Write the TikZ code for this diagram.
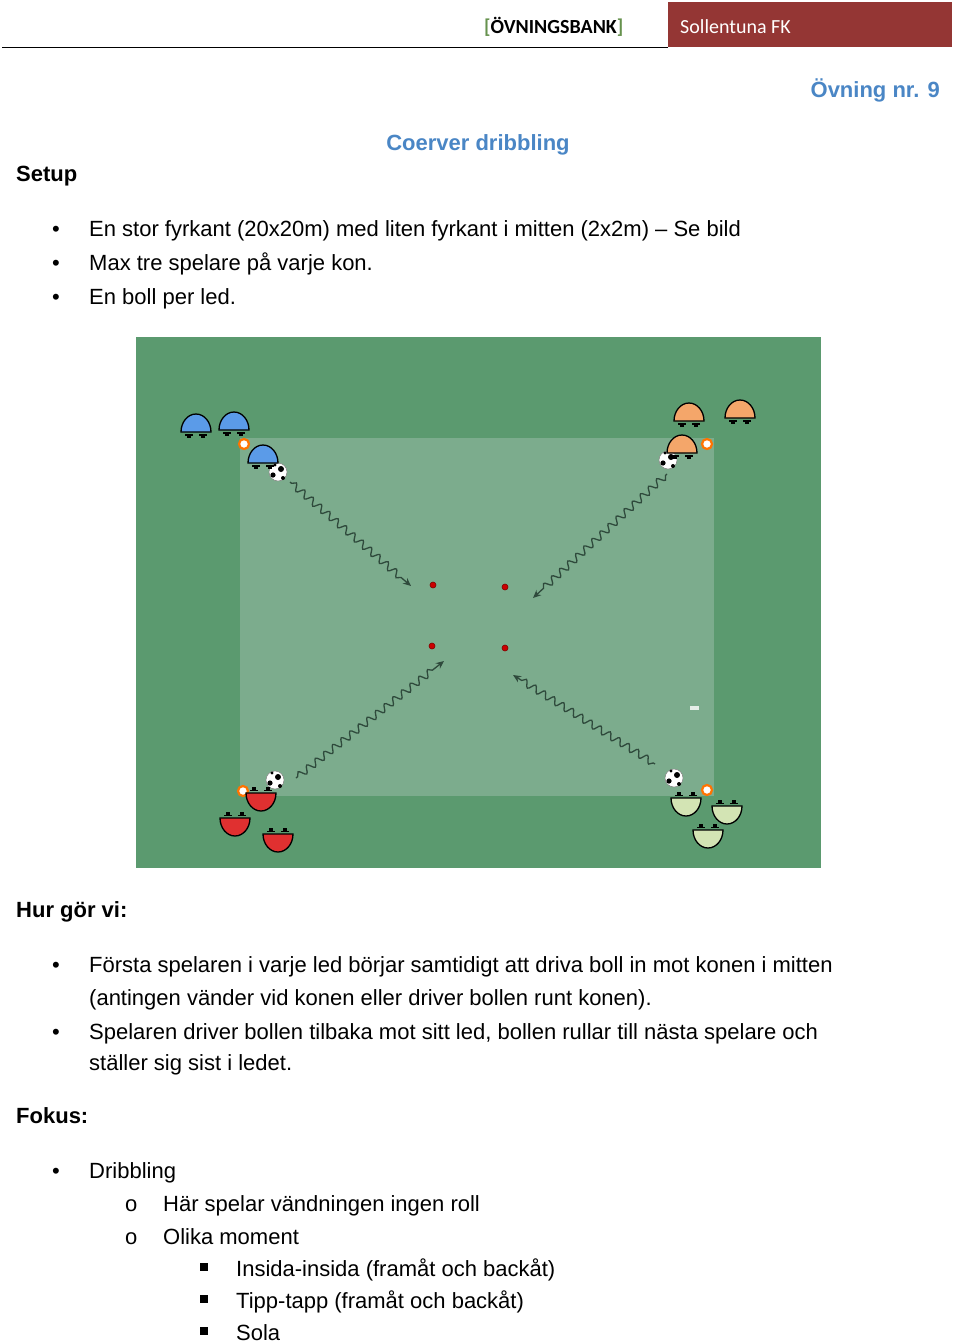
\documentclass[tikz,border=0pt]{standalone}
\usepackage{fontspec}
\setmainfont{Liberation Sans}
\newfontfamily\calib{Carlito}
\usetikzlibrary{decorations.pathmorphing,arrows.meta}
\definecolor{hdrred}{HTML}{943634}
\definecolor{ttlblue}{HTML}{4A86C5}
\definecolor{outerg}{HTML}{5B9A6F}
\definecolor{innerg}{HTML}{7CAC8D}
\definecolor{pblue}{HTML}{5B9BE8}
\definecolor{porange}{HTML}{F4A66A}
\definecolor{pred}{HTML}{E03030}
\definecolor{pcream}{HTML}{D3E4B4}
\definecolor{arrowc}{HTML}{2F4A3C}
\tikzset{
 body/.style={font=\fontsize{22}{26}\selectfont, anchor=base west, inner sep=0},
 head/.style={font=\fontsize{22}{26}\selectfont\bfseries, anchor=base west, inner sep=0},
 dribble/.style={arrowc, line width=1.3pt, -{Stealth[length=8pt,width=7pt]}, decorate, decoration={snake, amplitude=3.5pt, segment length=11pt, pre length=2pt, post length=10pt}},
 player/.pic={
   \fill[black] (-9,2) rectangle (-5,6); \fill[black] (5,2) rectangle (9,6);
   \fill[black] (-11,2) rectangle (-3,3.5); \fill[black] (3,2) rectangle (11,3.5);
   \filldraw[fill=\pcol, draw=black, line width=1.3pt] (-15,0) -- (15,0) arc[start angle=0,end angle=180,x radius=15,y radius=-18] -- cycle;
 },
}
\newcommand{\pcol}{pblue}
\begin{document}
\begin{tikzpicture}[x=1pt,y=-1pt]
\useasboundingbox (0,0) rectangle (960,1344);
% header
\fill[hdrred] (668,2) rectangle (952,47);
\draw[line width=0.8pt] (2,47) -- (668,47);
\node[anchor=base west, inner sep=0, font=\calib\fontsize{20}{24}\selectfont\bfseries] (hb) at (484,33) {\textcolor{outerg!70!olive}{[}ÖVNINGSBANK\textcolor{outerg!70!olive}{]}};
\node[anchor=base west, inner sep=0, font=\calib\fontsize{20}{24}\selectfont, text=white] (hs) at (680,33) {Sollentuna FK};
\node[anchor=base east, inner sep=0, font=\fontsize{22}{26}\selectfont\bfseries, text=ttlblue] (nr) at (940,97) {Övning nr. 9};
\node[anchor=base, inner sep=0, font=\fontsize{22}{26}\selectfont\bfseries, text=ttlblue] (ttl) at (478,150) {Coerver dribbling};
\node[head] (setup) at (16,181) {Setup};
\foreach \y/\t [count=\i] in {236/{En stor fyrkant (20x20m) med liten fyrkant i mitten (2x2m) -- Se bild},270/{Max tre spelare på varje kon.},304/{En boll per led.}} {
  \node[body] (sb\i) at (52,\y) {•};
  \node[body] (s\i) at (89,\y) {\t};
}
% field
\fill[outerg] (136,337) rectangle (821,868);
\fill[innerg] (240,438) rectangle (714,796);
\fill[white!80!innerg] (690,706) rectangle (699,710);
% arrows
\coordinate (a1s) at (290,482); \coordinate (a1e) at (411,586);
\coordinate (a2s) at (667,474); \coordinate (a2e) at (533,598);
\coordinate (a3s) at (296,778); \coordinate (a3e) at (444,661);
\coordinate (a4s) at (655,764); \coordinate (a4e) at (513,675);
\draw[dribble] (a1s) -- (a1e);
\draw[dribble] (a2s) -- (a2e);
\draw[dribble] (a3s) -- (a3e);
\draw[dribble] (a4s) -- (a4e);
% centre cones
\foreach \x/\y [count=\i] in {433/585,505/587,432/646,505/648}
  \node[circle, fill=red!80!black, draw=red!50!black, line width=0.6pt, minimum size=6pt, inner sep=0] (c\i) at (\x,\y) {};
% corner cones
\foreach \x/\y [count=\i] in {244/444,707/444,243/791,707/790}
  \node[circle, fill=white, draw=orange!90!red, line width=2.2pt, minimum size=10pt, inner sep=0] (k\i) at (\x,\y) {};
% balls
\foreach \x/\y [count=\i] in {278,472/0,668/460,275/780,674/778}{}
\foreach \x/\y [count=\i] in {278/472,668/460,275/780,674/778}{
  \node[circle, fill=white, draw=gray, line width=0.5pt, minimum size=18pt, inner sep=0] (b\i) at (\x,\y) {};
  \fill[black] (\x+3,\y-3) circle (3); \fill[black] (\x-5,\y+3) circle (2.6); \fill[black] (\x+5,\y+6) circle (2); \fill[black] (\x-3,\y-7) circle (1.6);
}
% players
\renewcommand{\pcol}{pblue}
\foreach \x/\y in {196/432,234/430,263/463} \pic at (\x,\y) {player};
\renewcommand{\pcol}{porange}
\foreach \x/\y in {689/421,740/418,682/453} \pic at (\x,\y) {player};
\renewcommand{\pcol}{pred}
\foreach \x/\y in {261/807,235/832,278/848} \pic[yscale=-1] at (\x,\y-14) {player};
\renewcommand{\pcol}{pcream}
\foreach \x/\y in {686/812,727/820,708/844} \pic[yscale=-1] at (\x,\y-14) {player};
% bottom text
\node[head] (hur) at (16,917) {Hur gör vi:};
\node[body] (hb1) at (52,972) {•};
\node[body] (h1) at (89,972) {Första spelaren i varje led börjar samtidigt att driva boll in mot konen i mitten};
\node[body] (h1b) at (89,1005) {(antingen vänder vid konen eller driver bollen runt konen).};
\node[body] (hb2) at (52,1039) {•};
\node[body] (h2) at (89,1039) {Spelaren driver bollen tilbaka mot sitt led, bollen rullar till nästa spelare och};
\node[body] (h2b) at (89,1070) {ställer sig sist i ledet.};
\node[head] (fok) at (16,1123) {Fokus:};
\node[body] (fb1) at (52,1178) {•};
\node[body] (f1) at (89,1178) {Dribbling};
\node[body] (fo1) at (125,1211) {o};
\node[body] (f2) at (163,1211) {Här spelar vändningen ingen roll};
\node[body] (fo2) at (125,1244) {o};
\node[body] (f3) at (163,1244) {Olika moment};
\foreach \y/\t [count=\i] in {1276/{Insida-insida (framåt och backåt)},1308/{Tipp-tapp (framåt och backåt)},1340/{Sola}} {
  \fill (200,\y-13) rectangle (208,\y-5);
  \node[body] (g\i) at (236,\y) {\t};
}
\end{tikzpicture}
\end{document}
